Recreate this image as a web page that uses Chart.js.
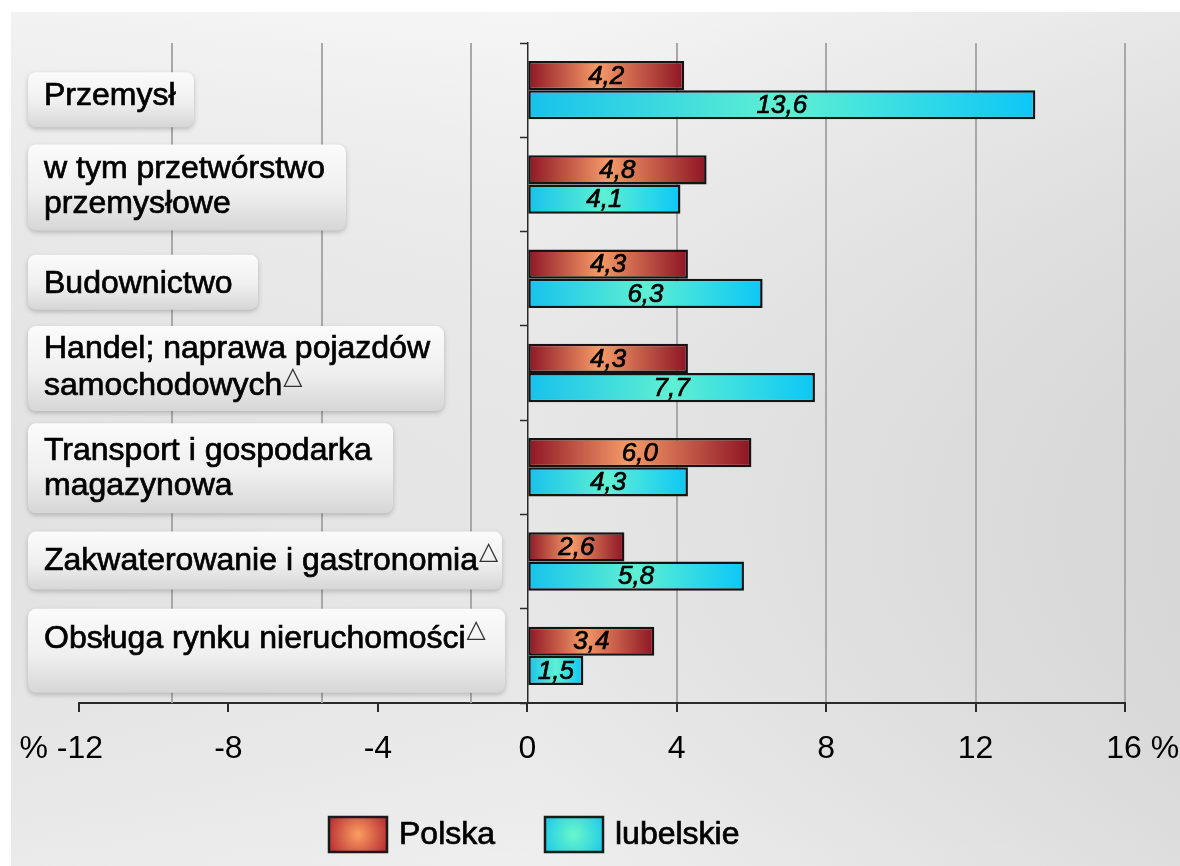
<!DOCTYPE html>
<html>
<head>
<meta charset="UTF-8">
<title>Dynamika - Polska i lubelskie</title>
<script src="https://cdn.jsdelivr.net/npm/chart.js@4/dist/chart.umd.min.js"></script>
<style>
  body { margin: 0; background: #ffffff; }
  canvas { display: block; }
</style>
</head>
<body>
<canvas id="chart" width="1180" height="866"></canvas>
<script>
// data
const categories = [
  ['Przemysł'],
  ['w tym przetwórstwo', 'przemysłowe'],
  ['Budownictwo'],
  ['Handel; naprawa pojazdów', 'samochodowych'],
  ['Transport i gospodarka', 'magazynowa'],
  ['Zakwaterowanie i gastronomia'],
  ['Obsługa rynku nieruchomości']
];
const footnoteMark = [false, false, false, true, false, true, true];
const polska = [4.2, 4.8, 4.3, 4.3, 6.0, 2.6, 3.4];
const lubelskie = [13.6, 4.1, 6.3, 7.7, 4.3, 5.8, 1.5];
const seriesNames = ['Polska', 'lubelskie'];
const xTicks = [-12, -8, -4, 0, 4, 8, 12, 16];

// look of the label boxes (pixel offsets from the category centre)
const labelBoxes = [
  { right: 194, top: -18, bottom: 37, lines: [15] },
  { right: 346, top: -40, bottom: 46, lines: [-6, 29] },
  { right: 258, top: -24, bottom: 31, lines: [14] },
  { right: 444, top: -47, bottom: 38, lines: [-15, 22] },
  { right: 393, top: -44, bottom: 46, lines: [-7, 28] },
  { right: 502, top: -30, bottom: 28, lines: [8] },
  { right: 505, top: -47, bottom: 37, lines: [-8] }
];
const leftGrid = [-9.5, -5.5, -1.5];
const FONT = '"Liberation Sans", Arial, sans-serif';

function fmt(v) {
  return v.toFixed(1).replace('.', ',');
}

// draw text a touch heavier, the original is rather dark
function heavyText(c, t, x, y) {
  c.fillText(t, x, y);
  c.lineWidth = 0.7;
  c.strokeStyle = c.fillStyle;
  c.strokeText(t, x, y);
}

function barFill(stops, fallback) {
  return function (ctx) {
    const chart = ctx.chart;
    const xs = chart.scales.x;
    if (!xs || ctx.type !== 'data' || ctx.raw === undefined) return fallback;
    const x0 = xs.getPixelForValue(0);
    const x1 = xs.getPixelForValue(ctx.raw);
    if (!isFinite(x0) || !isFinite(x1) || x0 === x1) return fallback;
    const g = chart.ctx.createLinearGradient(x0, 0, x1, 0);
    stops.forEach(s => g.addColorStop(s[0], s[1]));
    return g;
  };
}

const background = {
  id: 'background',
  beforeDraw(chart) {
    const c = chart.ctx;
    c.save();
    c.fillStyle = '#ffffff';
    c.fillRect(0, 0, chart.width, chart.height);
    const g = c.createLinearGradient(11, 0, chart.width, 0);
    g.addColorStop(0, '#efefef');
    g.addColorStop(0.45, '#f3f3f3');
    g.addColorStop(1, '#e2e2e2');
    c.fillStyle = g;
    c.fillRect(11, 12, chart.width - 11, chart.height - 12);
    const v = c.createLinearGradient(0, 12, 0, chart.height);
    v.addColorStop(0, 'rgba(255,255,255,0.2)');
    v.addColorStop(1, 'rgba(0,0,0,0.02)');
    c.fillStyle = v;
    c.fillRect(11, 12, chart.width - 11, chart.height - 12);
    c.restore();
  }
};

const labelPanels = {
  id: 'labelPanels',
  beforeDatasetsDraw(chart) {
    const c = chart.ctx;
    const xs = chart.scales.x, ys = chart.scales.y;
    const area = chart.chartArea;
    c.save();
    // the gridlines on the negative side sit between the ticks
    c.strokeStyle = '#a8a8a8';
    c.lineWidth = 2;
    leftGrid.forEach(v => {
      const px = Math.round(xs.getPixelForValue(v));
      c.beginPath();
      c.moveTo(px, area.top);
      c.lineTo(px, area.bottom);
      c.stroke();
    });

    categories.forEach((lines, i) => {
      const cy = ys.getPixelForValue(i);
      const b = labelBoxes[i];
      const x = 28, y = cy + b.top, w = b.right - 28, h = b.bottom - b.top;
      c.save();
      c.shadowColor = 'rgba(0,0,0,0.22)';
      c.shadowBlur = 5;
      c.shadowOffsetY = 2;
      const g = c.createLinearGradient(0, y, 0, y + h);
      g.addColorStop(0, '#fbfbfb');
      g.addColorStop(0.55, '#efefef');
      g.addColorStop(1, '#d6d6d6');
      c.fillStyle = g;
      c.beginPath();
      c.roundRect(x, y, w, h, 8);
      c.fill();
      c.restore();

      c.fillStyle = '#000000';
      c.font = '32px ' + FONT;
      c.textAlign = 'left';
      c.textBaseline = 'alphabetic';
      lines.forEach((t, k) => {
        const by = cy + b.lines[k];
        heavyText(c, t, 44, by);
        if (footnoteMark[i] && k === lines.length - 1) {
          const tw = c.measureText(t).width;
          c.save();
          c.font = '25px "DejaVu Sans"';
          c.fillStyle = '#333333';
          c.fillText('\u25B3', 44 + tw + 1, by - 11);
          c.restore();
        }
      });
    });
    c.restore();
  }
};

const valueLabels = {
  id: 'valueLabels',
  afterDatasetsDraw(chart) {
    const c = chart.ctx;
    c.save();
    c.font = 'italic 26px ' + FONT;
    c.fillStyle = '#000000';
    c.textAlign = 'center';
    c.textBaseline = 'middle';
    chart.data.datasets.forEach((ds, i) => {
      chart.getDatasetMeta(i).data.forEach((bar, j) => {
        const p = bar.getProps(['x', 'y', 'base'], true);
        heavyText(c, fmt(ds.data[j]), (p.x + p.base) / 2, p.y + 1);
      });
    });
    c.restore();
  }
};

const legendBoxes = {
  id: 'legendBoxes',
  afterDraw(chart) {
    const c = chart.ctx;
    const items = [
      { x: 329, inner: '#f8975f', outer: '#b3262f' },
      { x: 545, inner: '#66f4cb', outer: '#19c9ea' }
    ];
    c.save();
    items.forEach((it, i) => {
      const y = 817, w = 58, h = 35;
      const g = c.createRadialGradient(it.x + w / 2, y + h / 2, 2, it.x + w / 2, y + h / 2, 34);
      g.addColorStop(0, it.inner);
      g.addColorStop(1, it.outer);
      c.fillStyle = g;
      c.fillRect(it.x, y, w, h);
      c.strokeStyle = '#1a1a1a';
      c.lineWidth = 2.5;
      c.strokeRect(it.x, y, w, h);
      c.fillStyle = '#000000';
      c.font = '32px ' + FONT;
      c.textAlign = 'left';
      c.textBaseline = 'middle';
      heavyText(c, seriesNames[i], it.x + w + 12, y + h / 2 + 1);
    });
    c.restore();
  }
};

new Chart(document.getElementById('chart'), {
  type: 'bar',
  data: {
    labels: categories,
    datasets: [
      {
        label: seriesNames[0],
        data: polska,
        backgroundColor: barFill([[0, '#8e1424'], [0.45, '#f59a68'], [1, '#8e1424']], '#c0404a'),
        borderColor: '#141414',
        borderWidth: 2.5,
        borderSkipped: false
      },
      {
        label: seriesNames[1],
        data: lubelskie,
        backgroundColor: barFill([[0, '#16c1ec'], [0.5, '#5ef0d3'], [1, '#0cc7f6']], '#30d8e8'),
        borderColor: '#141414',
        borderWidth: 2.5,
        borderSkipped: false
      }
    ]
  },
  options: {
    indexAxis: 'y',
    responsive: false,
    animation: false,
    categoryPercentage: 0.62,
    barPercentage: 1.0,
    layout: { padding: { top: 43, left: 79, right: 55, bottom: 100 } },
    plugins: {
      legend: { display: false },
      tooltip: { enabled: false }
    },
    scales: {
      x: {
        min: -12,
        max: 16,
        afterBuildTicks(scale) {
          scale.ticks = xTicks.map(v => ({ value: v }));
        },
        afterFit(scale) {
          // the end labels may hang past the plot, keep the plot where it is
          scale.paddingLeft = 0;
          scale.paddingRight = 0;
          scale.height = 63;
        },
        grid: {
          color: ctx => (ctx.tick && ctx.tick.value > 0) ? '#a8a8a8' : 'rgba(0,0,0,0)',
          lineWidth: 2,
          tickColor: '#2a2a2a',
          tickLength: 9,
          tickWidth: 2
        },
        border: { display: true, color: '#2a2a2a', width: 2 },
        ticks: {
          color: '#000000',
          font: { family: FONT, size: 32 },
          padding: 18,
          maxRotation: 0,
          autoSkip: false,
          callback: v => {
            if (v === -12) return '% -12    ';
            if (v === 16) return '    16 %';
            return String(v);
          }
        }
      },
      y: {
        type: 'category',
        position: { x: 0 },
        grid: {
          drawOnChartArea: false,
          offset: true,
          tickLength: 7,
          tickColor: '#2a2a2a',
          tickWidth: 1.5
        },
        border: { display: true, color: '#2a2a2a', width: 1.5 },
        ticks: { display: false }
      }
    }
  },
  plugins: [background, labelPanels, valueLabels, legendBoxes]
});
</script>
</body>
</html>
